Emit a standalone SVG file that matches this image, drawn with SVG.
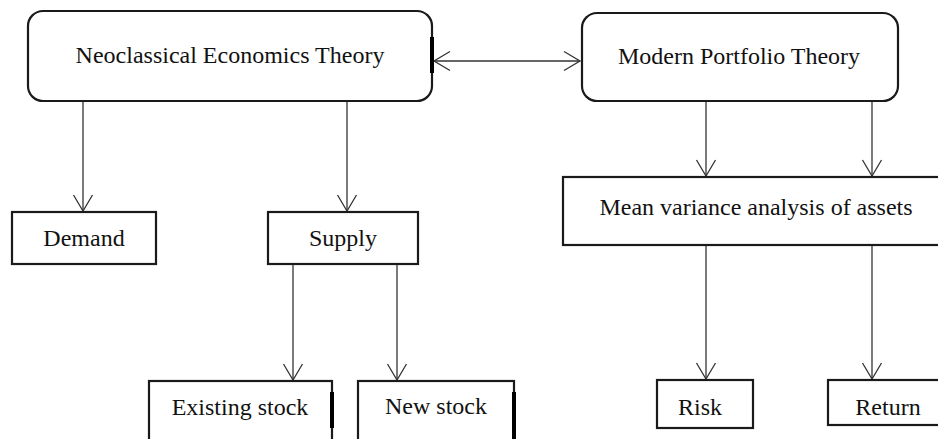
<svg xmlns="http://www.w3.org/2000/svg" width="938" height="439" viewBox="0 0 938 439">
  <style>
    .box { fill: #ffffff; stroke: #1a1a1a; stroke-width: 2.2; }
    .bar { stroke: #000000; stroke-width: 4; }
    .lbl { font-family: "Liberation Serif", "Times New Roman", serif; font-size: 24px; fill: #111111; text-anchor: middle; }
    .link { fill: none; stroke: #333333; stroke-width: 1.3; }
  </style>
  <defs>
    <marker id="head" markerUnits="userSpaceOnUse" markerWidth="40" markerHeight="40" viewBox="-20 -20 40 40" refX="0" refY="0" orient="auto-start-reverse">
      <path d="M-16,-9.5 L0,0 L-16,9.5" fill="none" stroke="#333333" stroke-width="1.3"/>
    </marker>
  </defs>
  <rect width="938" height="439" fill="#ffffff"/>

  <!-- connectors -->
  <g id="connectors" class="link">
    <line x1="434" y1="61" x2="580" y2="61" marker-start="url(#head)" marker-end="url(#head)"/>
    <line x1="83" y1="101" x2="83" y2="211" marker-end="url(#head)"/>
    <line x1="347" y1="101" x2="347" y2="211" marker-end="url(#head)"/>
    <line x1="293" y1="264" x2="293" y2="380" marker-end="url(#head)"/>
    <line x1="397" y1="264" x2="397" y2="380" marker-end="url(#head)"/>
    <line x1="706" y1="101" x2="706" y2="176" marker-end="url(#head)"/>
    <line x1="872" y1="101" x2="872" y2="176" marker-end="url(#head)"/>
    <line x1="706" y1="245" x2="706" y2="379" marker-end="url(#head)"/>
    <line x1="872" y1="245" x2="872" y2="379" marker-end="url(#head)"/>
  </g>

  <g id="neoclassical">
    <rect class="box" x="28" y="11" width="404" height="90" rx="15" ry="15"/>
    <line class="bar" x1="432" y1="37" x2="432" y2="73"/>
    <text class="lbl" x="230" y="63">Neoclassical Economics Theory</text>
  </g>

  <g id="portfolio">
    <rect class="box" x="582" y="13" width="316" height="88" rx="15" ry="15"/>
    <text class="lbl" x="739" y="64">Modern Portfolio Theory</text>
  </g>

  <g id="demand">
    <rect class="box" x="12" y="212" width="144" height="52"/>
    <text class="lbl" x="84" y="246">Demand</text>
  </g>

  <g id="supply">
    <rect class="box" x="268" y="212" width="150" height="52"/>
    <text class="lbl" x="343" y="246">Supply</text>
  </g>

  <g id="existing-stock">
    <rect class="box" x="149" y="381" width="183" height="62"/>
    <line class="bar" x1="332" y1="392" x2="332" y2="428"/>
    <text class="lbl" x="240" y="415">Existing stock</text>
  </g>

  <g id="new-stock">
    <rect class="box" x="358" y="381" width="156" height="62"/>
    <line class="bar" x1="514" y1="392" x2="514" y2="441"/>
    <text class="lbl" x="436" y="414">New stock</text>
  </g>

  <g id="mean-variance">
    <rect class="box" x="563" y="177" width="390" height="68"/>
    <text class="lbl" x="756" y="215">Mean variance analysis of assets</text>
  </g>

  <g id="risk">
    <rect class="box" x="657" y="380" width="96" height="48"/>
    <text class="lbl" x="700" y="415">Risk</text>
  </g>

  <g id="return">
    <rect class="box" x="828" y="380" width="125" height="45"/>
    <text class="lbl" x="888" y="415">Return</text>
  </g>
</svg>
